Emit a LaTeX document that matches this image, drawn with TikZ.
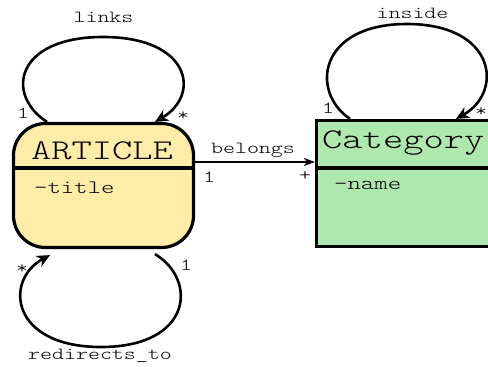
\documentclass[tikz,border=0pt]{standalone}
\usepackage{fontspec}
\usetikzlibrary{arrows.meta}
\newfontfamily\umlmono{lmmonolt10-regular.otf}[FakeStretch=1.35]
\definecolor{artfill}{RGB}{255,236,168}
\definecolor{catfill}{RGB}{174,232,174}
\tikzset{
  classbox/.style={draw=black, line width=3.2pt, inner sep=0pt},
  divider/.style={line width=3.2pt},
  assoc/.style={line width=2.6pt, -{Stealth[length=13pt,width=12pt,inset=4pt]}},
  thinassoc/.style={line width=1.2pt, -{Stealth[length=11pt,width=8pt,inset=3pt]}},
  lbl/.style={font=\umlmono\fontsize{16.9}{18}\selectfont, inner sep=0pt, anchor=base},
  title/.style={font=\umlmono\fontsize{28.6}{30}\selectfont, inner sep=0pt, anchor=base},
  attr/.style={font=\umlmono\fontsize{18.9}{20}\selectfont, inner sep=0pt, anchor=base west},
}
\begin{document}
\begin{tikzpicture}[x=1pt,y=-1pt]
\useasboundingbox (0,0) rectangle (488,367);
\clip (0,0) rectangle (488,367);

% class boxes
\node[classbox, fill=artfill, rounded corners=32pt,
      minimum width=180pt, minimum height=124pt] (article) at (103.5,185.5) {};
\node[classbox, fill=catfill,
      minimum width=190pt, minimum height=126pt] (category) at (411.5,183.5) {};

% compartments
\draw[divider] (13.5,168) -- (193.5,168);
\draw[divider] (316.5,168) -- (500,168);

\node[title] (articlename) at (102,159) {ARTICLE};
\node[title, anchor=base west] (categoryname) at (322,148) {Category};
\node[attr] (articletitle) at (34,193) {-title};
\node[attr] (categoryattr) at (334,189) {-name};

% article -> category
\draw[thinassoc] (article.east |- 0,162) -- (category.west |- 0,162);
\node[lbl] (belongs) at (253,153) {belongs};
\node[lbl] (belongs1) at (209,182) {1};
\node[lbl] (belongsplus) at (305,180) {+};

% self association: links
\coordinate (lkA) at ([xshift=-56.5pt]article.north);
\coordinate (lkB) at ([xshift=51.5pt]article.north);
\draw[assoc] (lkA) .. controls (5,95) and (15,37) .. (103,37)
                   .. controls (191,37) and (201,95) .. (lkB);
\node[lbl] (links) at (103.5,22) {links};
\node[lbl] (links1) at (23,118) {1};
\node[lbl] (linksstar) at (183,120) {*};

% self association: inside
\coordinate (inA) at ([xshift=-61.5pt]category.north);
\coordinate (inB) at ([xshift=44.5pt]category.north);
\draw[assoc] (inA) .. controls (310,92) and (318,24) .. (407,24)
                   .. controls (496,24) and (504,92) .. (inB);
\node[lbl] (inside) at (412.5,18) {inside};
\node[lbl] (inside1) at (328,113) {1};
\node[lbl] (insidestar) at (481,116) {*};

% self association: redirects_to
\coordinate (rdA) at ([xshift=51.5pt,yshift=-5pt]article.south);
\coordinate (rdB) at ([xshift=-53.5pt,yshift=-6pt]article.south);
\draw[assoc] (rdA) .. controls (198,280) and (192,347) .. (101,347)
                   .. controls (10,347) and (4,280) .. (rdB);
\node[lbl] (redirects) at (100,359) {redirects\_to};
\node[lbl] (redirectsstar) at (22,273) {*};
\node[lbl] (redirects1) at (186,270) {1};
\end{tikzpicture}
\end{document}
